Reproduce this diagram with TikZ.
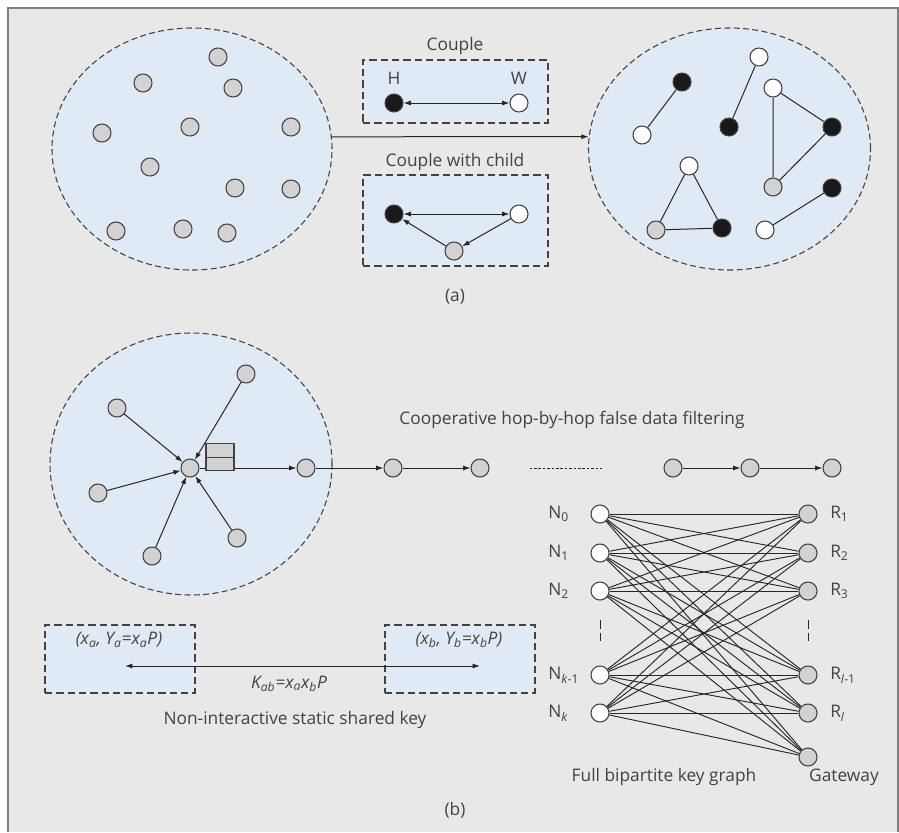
\documentclass[tikz,border=0pt]{standalone}
\usepackage{fontspec}
\setmainfont{Open Sans}
\usetikzlibrary{arrows.meta,shapes.geometric}
\definecolor{bggray}{RGB}{232,232,232}
\definecolor{popblue}{RGB}{223,234,245}
\definecolor{nodegray}{RGB}{210,210,210}
\definecolor{ink}{RGB}{66,66,66}

\begin{document}
\begin{tikzpicture}[x=0.75pt,y=-0.75pt,
      font=\fontsize{13}{15}\selectfont,text=ink,
      >={Latex[length=5.5pt,width=3.8pt]},
      sens/.style={draw=ink,circle,line width=0.8pt,minimum size=13.5pt,inner sep=0pt,fill=nodegray},
      hus/.style={sens,fill=black!90},
      wif/.style={sens,fill=white},
      pop/.style={draw=ink,ellipse,dash pattern=on 4.5pt off 2.5pt,line width=0.8pt,fill=popblue,inner sep=0pt},
      box/.style={draw=ink,rectangle,dash pattern=on 5.5pt off 3pt,line width=0.9pt,fill=popblue,inner sep=0pt},
      buf/.style={draw=ink,rectangle,line width=0.8pt,fill=nodegray,minimum width=21pt,minimum height=10.1pt,inner sep=0pt},
      link/.style={draw=black!85,line width=0.75pt}]
    % grey panel, open at the bottom
    \useasboundingbox (0,0) rectangle (899,832);
    \fill[bggray] (8,8) rectangle (898,832);
    \draw[gray,line width=1.5pt] (8,832) -- (8,8) -- (898,8) -- (898,832);

    % (a) the population before and after forming families
    \node[pop,minimum width=210pt,minimum height=181.5pt] (popA) at (192,149) {};
    \node[pop,minimum width=211.5pt,minimum height=181.5pt] (popB) at (729.5,149) {};
    \foreach \x/\y [count=\i] in {218/57, 143/83, 233/88, 102/133, 190/127, 291/127,
                                  150/167, 235/188, 291/189, 116/231, 183/229, 227/233}
      \node[sens] (p\i) at (\x,\y) {};
    \draw[link,->] (popA.5) -- (popB.175);

    \node[box,minimum width=138.75pt,minimum height=47.25pt] (coupleBox) at (455.5,91.5) {};
    \node (coupleLbl) at (455,46) {Couple};
    \node (hLbl) at (394,78) {H};
    \node (wLbl) at (519,78) {W};
    \node[hus] (h1) at (394,103) {};
    \node[wif] (w1) at (519,103) {};
    \draw[link,<->] (h1) -- (w1);

    \node[box,minimum width=138.75pt,minimum height=68.25pt] (childBox) at (455.5,220.5) {};
    \node (childLbl) at (455,162) {Couple with child};
    \node[hus] (h2) at (394,214) {};
    \node[wif] (w2) at (519,214) {};
    \node[sens] (k2) at (454,251) {};
    \draw[link,<->] (h2) -- (w2);
    \draw[link,->] (w2) -- (k2);
    \draw[link,->] (k2) -- (h2);

    % families in the paired population
    \node[hus] (c1h) at (682,82) {};
    \node[wif] (c1w) at (642,135) {};
    \node[wif] (c2w) at (759,57) {};
    \node[hus] (c2h) at (729,127) {};
    \node[wif] (t1w) at (773,88) {};
    \node[hus] (t1h) at (832,127) {};
    \node[sens] (t1c) at (773,187) {};
    \node[wif] (t2w) at (689,166) {};
    \node[sens] (t2c) at (656,230) {};
    \node[hus] (t2h) at (722,228) {};
    \node[hus] (c3h) at (832,188) {};
    \node[wif] (c3w) at (765,230) {};
    \draw[link] (c1h) -- (c1w);
    \draw[link] (c2w) -- (c2h);
    \draw[link] (t1w) -- (t1h) -- (t1c) -- (t1w);
    \draw[link] (t2w) -- (t2h) -- (t2c) -- (t2w);
    \draw[link] (c3h) -- (c3w);
    \node (capA) at (455,297) {(a)};

    % (b) cluster head with its members and the forwarding path
    \node[pop,minimum width=211.5pt,minimum height=196.5pt] (popC) at (191,464) {};
    \node[sens] (hub) at (190,468) {};
    \foreach \x/\y [count=\i] in {246/374, 117/408, 98/493, 152/556, 237/538}{
      \node[sens] (s\i) at (\x,\y) {};
      \draw[link,->] (s\i) -- (hub);}
    \foreach \x [count=\i] in {306,393,480,673,750,832}
      \node[sens] (f\i) at (\x,468) {};
    \draw[link,->] (hub) -- (f1);
    \node[buf] (bufT) at (220,450.5) {};
    \node[buf] (bufB) at (220,464) {};
    \draw[link,->] (f1) -- (f2);
    \draw[link,->] (f2) -- (f3);
    \draw[link,dash pattern=on 2pt off 1.3pt,shorten <=30pt,shorten >=46pt] (f3) -- (f4);
    \draw[link,->] (f4) -- (f5);
    \draw[link,->] (f5) -- (f6);
    \node (hopLbl) at (572,420) {Cooperative hop-by-hop false data filtering};

    % full bipartite key graph
    \foreach \y/\t [count=\i] in {514/N\textsubscript{0}, 553/N\textsubscript{1}, 591/N\textsubscript{2},
                                  675/N\textsubscript{\textit{k}-1}, 713/N\textsubscript{\textit{k}}}{
      \node[wif] (nb\i) at (600,\y) {};
      \node[anchor=west,inner sep=0pt] (nl\i) at (548,\y) {\t};}
    \foreach \y/\t [count=\j] in {514/R\textsubscript{1}, 553/R\textsubscript{2}, 591/R\textsubscript{3},
                                  675/R\textsubscript{\textit{l}-1}, 713/R\textsubscript{\textit{l}}, 757/{}}{
      \node[sens] (rb\j) at (808,\y) {};
      \node[anchor=west,inner sep=0pt] (rl\j) at (830,\y) {\t};}
    \foreach \i in {1,...,5}
      \foreach \j in {1,...,6}
        \draw[link,line width=0.7pt] (nb\i) -- (rb\j);
    \coordinate (nd1) at (600,620);
    \coordinate (nd2) at (600,642);
    \coordinate (rd1) at (808,620);
    \coordinate (rd2) at (808,642);
    \draw[link,dash pattern=on 6.5pt off 3pt] (nd1) -- (nd2);
    \draw[link,dash pattern=on 6.5pt off 3pt] (rd1) -- (rd2);
    \node (bipLbl) at (664,777) {Full bipartite key graph};
    \node (gwLbl) at (844,777) {Gateway};

    % non-interactive key agreement
    \node[box,minimum width=112.5pt,minimum height=51pt] (keyA) at (120,659) {};
    \node[box,minimum width=112.5pt,minimum height=51pt] (keyB) at (460,659) {};
    \node (keyAtxt) at (119,640) {\itshape (x\textsubscript{a}, Y\textsubscript{a}=x\textsubscript{a}P)};
    \node (keyBtxt) at (459,640) {\itshape (x\textsubscript{b}, Y\textsubscript{b}=x\textsubscript{b}P)};
    \coordinate (kA) at (125,666);
    \coordinate (kB) at (480,666);
    \draw[link,<->] (kA) -- (kB);
    \node (kab) at (289,684) {\itshape K\textsubscript{ab}=x\textsubscript{a}x\textsubscript{b}P};
    \node (nonLbl) at (295,720) {Non-interactive static shared key};
    \node (capB) at (455,810) {(b)};
  \end{tikzpicture}
\end{document}
